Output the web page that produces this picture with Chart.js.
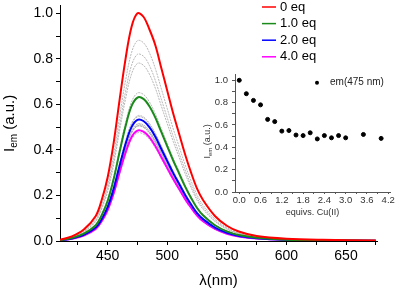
<!DOCTYPE html>
<html>
<head>
<meta charset="utf-8" />
<title>Emission titration with Cu(II)</title>
<script src="https://cdn.jsdelivr.net/npm/chart.js"></script>
<style>
  body { margin:0; padding:0; background:#fff; }
  #wrap { position:relative; width:400px; height:291px; }
  #main { position:absolute; left:0; top:0; }
  #inset { position:absolute; left:200px; top:65px; }
</style>
</head>
<body>
<div id="wrap">
<canvas id="main" width="400" height="291"></canvas>
<canvas id="inset" width="200" height="160"></canvas>
</div>
<script>
// wavelengths (nm) shared by all spectra
const wavelength = [410,420,430,440,445,450,455,460,465,470,475,480,485,490,495,500,505,510,515,520,525,530,540,550,560,575,600,630,675];

// coloured spectra
const em0eq  = [0.005,0.02,0.05,0.11,0.18,0.28,0.43,0.62,0.80,0.94,1.00,0.985,0.93,0.86,0.76,0.66,0.56,0.47,0.38,0.30,0.23,0.18,0.11,0.067,0.042,0.022,0.010,0.005,0.002];
const em10eq = [0.003,0.013,0.032,0.069,0.113,0.176,0.271,0.391,0.504,0.592,0.63,0.624,0.592,0.542,0.479,0.416,0.353,0.296,0.239,0.189,0.145,0.113,0.069,0.042,0.026,0.014,0.006,0.003,0.001];
const em20eq = [0.003,0.011,0.027,0.059,0.096,0.149,0.229,0.33,0.426,0.5,0.532,0.527,0.5,0.458,0.404,0.351,0.298,0.25,0.202,0.16,0.122,0.096,0.059,0.036,0.022,0.012,0.005,0.003,0.001];
const em40eq = [0.002,0.01,0.024,0.053,0.087,0.136,0.209,0.301,0.388,0.456,0.485,0.48,0.456,0.417,0.369,0.32,0.272,0.228,0.184,0.146,0.112,0.087,0.053,0.032,0.02,0.011,0.005,0.002,0.001];

// intermediate (grey) spectra
const grayCurves = [
  [0.004,0.018,0.044,0.097,0.158,0.246,0.378,0.546,0.704,0.827,0.88,0.871,0.827,0.757,0.669,0.581,0.493,0.414,0.334,0.264,0.202,0.158,0.097,0.059,0.037,0.019,0.009,0.004,0.002],
  [0.004,0.016,0.041,0.09,0.148,0.23,0.353,0.508,0.656,0.771,0.82,0.812,0.771,0.705,0.623,0.541,0.459,0.385,0.312,0.246,0.189,0.148,0.09,0.055,0.034,0.018,0.008,0.004,0.002],
  [0.004,0.016,0.039,0.086,0.14,0.218,0.335,0.484,0.624,0.733,0.78,0.772,0.733,0.671,0.593,0.515,0.437,0.367,0.296,0.234,0.179,0.14,0.086,0.052,0.033,0.017,0.008,0.004,0.002],
  [0.003,0.013,0.033,0.072,0.117,0.182,0.28,0.403,0.52,0.611,0.65,0.644,0.611,0.559,0.494,0.429,0.364,0.306,0.247,0.195,0.15,0.117,0.072,0.044,0.027,0.014,0.007,0.003,0.001],
  [0.003,0.011,0.027,0.06,0.098,0.153,0.234,0.338,0.436,0.512,0.545,0.54,0.512,0.469,0.414,0.36,0.305,0.256,0.207,0.164,0.125,0.098,0.06,0.037,0.023,0.012,0.005,0.003,0.001],
  [0.003,0.011,0.028,0.061,0.099,0.154,0.237,0.341,0.44,0.517,0.55,0.545,0.517,0.473,0.418,0.363,0.308,0.259,0.209,0.165,0.127,0.099,0.061,0.037,0.023,0.012,0.006,0.003,0.001],
  [0.003,0.01,0.026,0.056,0.092,0.143,0.219,0.316,0.408,0.479,0.51,0.505,0.479,0.439,0.388,0.337,0.286,0.24,0.194,0.153,0.117,0.092,0.056,0.034,0.021,0.011,0.005,0.003,0.001],
  [0.003,0.01,0.025,0.056,0.091,0.141,0.217,0.313,0.404,0.475,0.505,0.5,0.475,0.434,0.384,0.333,0.283,0.237,0.192,0.152,0.116,0.091,0.056,0.034,0.021,0.011,0.005,0.003,0.001],
  [0.002,0.01,0.024,0.052,0.086,0.133,0.204,0.295,0.38,0.447,0.475,0.47,0.447,0.409,0.361,0.314,0.266,0.223,0.181,0.143,0.109,0.086,0.052,0.032,0.02,0.01,0.005,0.002,0.001],
  [0.003,0.01,0.025,0.056,0.091,0.141,0.217,0.313,0.404,0.475,0.505,0.5,0.475,0.434,0.384,0.333,0.283,0.237,0.192,0.152,0.116,0.091,0.056,0.034,0.021,0.011,0.005,0.003,0.001],
  [0.002,0.01,0.024,0.053,0.087,0.136,0.209,0.301,0.388,0.456,0.485,0.48,0.456,0.417,0.369,0.32,0.272,0.228,0.184,0.146,0.112,0.087,0.053,0.032,0.02,0.011,0.005,0.002,0.001],
  [0.003,0.01,0.025,0.056,0.091,0.141,0.217,0.313,0.404,0.475,0.505,0.5,0.475,0.434,0.384,0.333,0.283,0.237,0.192,0.152,0.116,0.091,0.056,0.034,0.021,0.011,0.005,0.003,0.001],
  [0.002,0.01,0.024,0.053,0.087,0.136,0.209,0.301,0.388,0.456,0.485,0.48,0.456,0.417,0.369,0.32,0.272,0.228,0.184,0.146,0.112,0.087,0.053,0.032,0.02,0.011,0.005,0.002,0.001],
  [0.003,0.01,0.026,0.057,0.093,0.144,0.221,0.319,0.412,0.484,0.515,0.51,0.484,0.443,0.391,0.34,0.288,0.242,0.196,0.155,0.118,0.093,0.057,0.035,0.022,0.011,0.005,0.003,0.001]
];

const legendLabels = ['0 eq', '1.0 eq', '2.0 eq', '4.0 eq'];
const legendColors = ['#ff0000', '#1a8a1a', '#0000ff', '#ff00ff'];

// main axis ticks
const xMajor = [450, 500, 550, 600, 650];
const xMinor = [425, 475, 525, 575, 625, 675];
const yMajor = [0, 0.2, 0.4, 0.6, 0.8, 1.0];
const yMinor = [0.1, 0.3, 0.5, 0.7, 0.9];

// inset: emission at 475 nm vs equivalents
const equivs  = [0, 0.2, 0.4, 0.6, 0.8, 1.0, 1.2, 1.4, 1.6, 1.8, 2.0, 2.2, 2.4, 2.6, 2.8, 3.0, 3.5, 4.0];
const emInset = [1.0, 0.88, 0.82, 0.78, 0.65, 0.63, 0.545, 0.55, 0.51, 0.505, 0.53, 0.475, 0.505, 0.485, 0.505, 0.485, 0.515, 0.48];
const insetXMajor = [0, 0.6, 1.2, 1.8, 2.4, 3.0, 3.6, 4.2];
const insetXMinor = [0.3, 0.9, 1.5, 2.1, 2.7, 3.3, 3.9];
const insetYMajor = [0, 0.2, 0.4, 0.6, 0.8, 1.0];
const insetYMinor = [0.1, 0.3, 0.5, 0.7, 0.9];

const FONT = '"Liberation Sans", Arial, sans-serif';
Chart.defaults.font.family = FONT;

function toXY(ys) { return wavelength.map((x, i) => ({x: x, y: ys[i]})); }

function tickList(major, minor) {
  return major.concat(minor).sort((a, b) => a - b).map(v => ({value: v}));
}

// I_em (a.u.) rotated, with subscript
function drawIemTitle(ctx, x, yMid, size, color) {
  ctx.save();
  ctx.translate(x, yMid);
  ctx.rotate(-Math.PI / 2);
  ctx.fillStyle = color;
  ctx.textBaseline = 'middle';
  ctx.textAlign = 'left';
  const f1 = size + 'px ' + FONT;
  const f2 = Math.round(size * 0.65) + 'px ' + FONT;
  ctx.font = f1;
  const wI = ctx.measureText('I').width;
  const wRest = ctx.measureText(' (a.u.)').width;
  ctx.font = f2;
  const wSub = ctx.measureText('em').width;
  let sx = -(wI + wSub + wRest) / 2;
  ctx.font = f1; ctx.fillText('I', sx, 0);
  ctx.font = f2; ctx.fillText('em', sx + wI, size * 0.3);
  ctx.font = f1; ctx.fillText(' (a.u.)', sx + wI + wSub, 0);
  ctx.restore();
}

const mainLabels = {
  id: 'mainLabels',
  afterDraw(chart) {
    const ctx = chart.ctx;
    const a = chart.chartArea;
    drawIemTitle(ctx, 10, (a.top + a.bottom) / 2, 15, '#000');
    ctx.save();
    ctx.fillStyle = '#000';
    ctx.font = '15px ' + FONT;
    ctx.textAlign = 'center';
    ctx.textBaseline = 'middle';
    ctx.fillText('\u03bb(nm)', (a.left + a.right) / 2, a.bottom + 40);
    // legend
    ctx.textAlign = 'left';
    ctx.font = '13px ' + FONT;
    legendLabels.forEach((lab, i) => {
      const y = 7 + i * 16.6;
      ctx.strokeStyle = legendColors[i];
      ctx.lineWidth = 1.5;
      ctx.beginPath();
      ctx.moveTo(a.right - 115, y);
      ctx.lineTo(a.right - 101, y);
      ctx.stroke();
      ctx.fillText(lab, a.right - 97, y);
    });
    ctx.restore();
  }
};

const datasets = [];
[em0eq, em10eq, em20eq, em40eq].forEach((ys, i) => {
  datasets.push({data: toXY(ys), borderColor: legendColors[i], borderWidth: 2, order: 0});
});
grayCurves.forEach(ys => {
  datasets.push({data: toXY(ys), borderColor: '#b0b0b0', borderWidth: 0.9, borderDash: [2, 1], order: 1});
});

new Chart(document.getElementById('main'), {
  type: 'line',
  data: {datasets: datasets},
  options: {
    responsive: false,
    animation: false,
    layout: {padding: {top: 0, right: 23, left: 0, bottom: 0}},
    plugins: {legend: {display: false}, tooltip: {enabled: false}},
    elements: {point: {radius: 0}, line: {tension: 0.35}},
    scales: {
      x: {
        type: 'linear', min: 410, max: 676,
        afterBuildTicks: s => { s.ticks = tickList(xMajor, xMinor); },
        afterFit: s => { s.height = 50; },
        grid: {drawOnChartArea: false, drawTicks: true, tickLength: 4, color: '#000'},
        border: {display: true, color: '#000', width: 1},
        ticks: {font: {size: 14}, color: '#000', padding: 3, maxRotation: 0, autoSkip: false,
                callback: v => xMajor.includes(v) ? String(v) : ''}
      },
      y: {
        min: 0, max: 1.033,
        afterBuildTicks: s => { s.ticks = tickList(yMajor, yMinor); },
        afterFit: s => { s.width = 60; },
        grid: {drawOnChartArea: false, drawTicks: true, tickLength: 4, color: '#000'},
        border: {display: true, color: '#000', width: 1},
        ticks: {font: {size: 14, lineHeight: 0.4}, color: '#000', padding: 3, autoSkip: false,
                callback: v => yMajor.includes(v) ? v.toFixed(1) : ''}
      }
    }
  },
  plugins: [mainLabels]
});

const insetLabels = {
  id: 'insetLabels',
  afterDraw(chart) {
    const ctx = chart.ctx;
    const a = chart.chartArea;
    drawIemTitle(ctx, 8, (a.top + a.bottom) / 2 + 8, 9, '#333');
    ctx.save();
    ctx.fillStyle = '#333';
    ctx.font = '9px ' + FONT;
    ctx.textAlign = 'center';
    ctx.textBaseline = 'middle';
    ctx.fillText('equivs. Cu(II)', (a.left + a.right) / 2, a.bottom + 21);
    ctx.fillStyle = '#000';
    ctx.beginPath();
    ctx.arc(a.left + 82, a.top + 8, 2, 0, Math.PI * 2);
    ctx.fill();
    ctx.fillStyle = '#222';
    ctx.font = '10px ' + FONT;
    ctx.textAlign = 'left';
    ctx.fillText('em(475 nm)', a.left + 95, a.top + 8);
    ctx.restore();
  }
};

new Chart(document.getElementById('inset'), {
  type: 'scatter',
  data: {datasets: [{
    data: equivs.map((x, i) => ({x: x, y: emInset[i]})),
    backgroundColor: '#000', borderColor: '#000', pointRadius: 2, pointHoverRadius: 2
  }]},
  options: {
    responsive: false,
    animation: false,
    layout: {padding: {top: 7, right: 10, left: 0, bottom: 0}},
    plugins: {legend: {display: false}, tooltip: {enabled: false}},
    scales: {
      x: {
        type: 'linear', min: -0.12, max: 4.25,
        afterBuildTicks: s => { s.ticks = tickList(insetXMajor, insetXMinor); },
        afterFit: s => { s.height = 33; },
        grid: {drawOnChartArea: false, drawTicks: true, tickLength: 2, color: '#555'},
        border: {display: true, color: '#555', width: 1},
        ticks: {font: {size: 9.5}, color: '#333', padding: 1, maxRotation: 0, autoSkip: false,
                callback: v => insetXMajor.includes(v) ? v.toFixed(1) : ''}
      },
      y: {
        min: 0, max: 1.05,
        afterBuildTicks: s => { s.ticks = tickList(insetYMajor, insetYMinor); },
        afterFit: s => { s.width = 35; },
        grid: {drawOnChartArea: false, drawTicks: true, tickLength: 3, color: '#555'},
        border: {display: true, color: '#555', width: 1},
        ticks: {font: {size: 9.5}, color: '#333', padding: 4, autoSkip: false,
                callback: v => insetYMajor.includes(v) ? v.toFixed(1) : ''}
      }
    }
  },
  plugins: [insetLabels]
});
</script>
</body>
</html>
